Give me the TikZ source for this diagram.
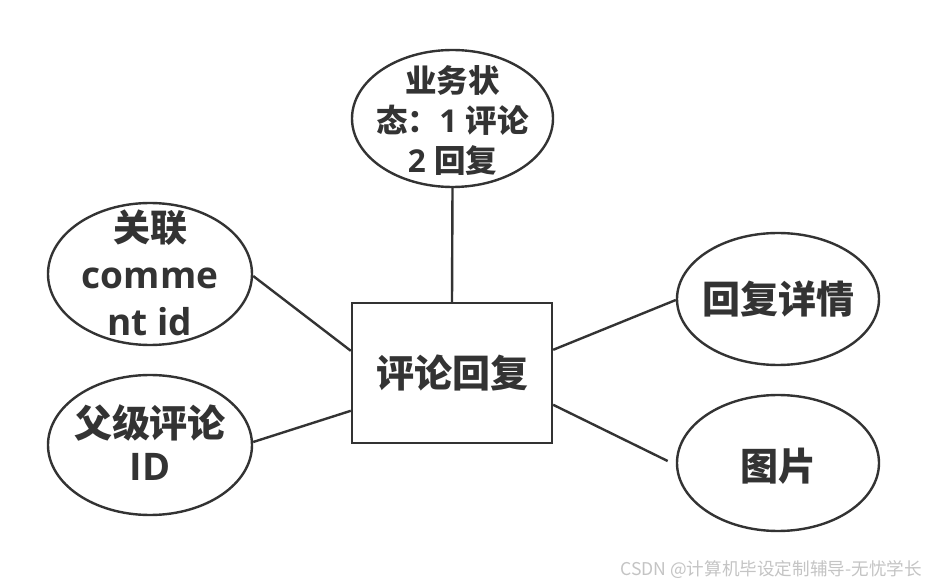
\documentclass[tikz,border=0pt]{standalone}
\usepackage{fontspec}
\setmainfont{Open Sans}
\newfontfamily\cjk{Noto Sans CJK SC}
\usetikzlibrary{shapes.geometric}
\definecolor{ink}{HTML}{333333}
\definecolor{wm}{HTML}{C4C4C4}
\begin{document}
\begin{tikzpicture}[x=1pt,y=-1pt,
  attr/.style={draw=ink,line width=2.4pt,ellipse,inner sep=0pt,fill=white},
  ent/.style={draw=ink,line width=2.4pt,rectangle,inner sep=0pt,fill=white},
  lbl/.style={text=ink,align=center,inner sep=0pt,font=\bfseries},
  link/.style={draw=ink,line width=2.4pt}]
\useasboundingbox (0,0) rectangle (927,585);
\fill[white] (0,0) rectangle (927,585);

% nodes
\node[ent,minimum width=200pt,minimum height=140pt] (r) at (452,373) {};
\node[lbl,font=\fontsize{38}{44}\selectfont\cjk\bfseries] (rt) at (r) {评论回复};

\node[attr,minimum width=201pt,minimum height=137pt] (top) at (452.5,118.5) {};
\node[lbl,font=\fontsize{31.5}{40}\selectfont\bfseries] (topt) at ([yshift=-2]top) {{\cjk 业务状}\\{\cjk 态：}1 {\cjk 评论}\\2 {\cjk 回复}};

\node[attr,minimum width=204pt,minimum height=142pt] (lt) at (150,274) {};
\node[lbl,font=\fontsize{37}{47}\selectfont\bfseries] (ltt) at ([yshift=1]lt) {{\cjk 关联}\\comme\\nt id};

\node[attr,minimum width=204pt,minimum height=140pt] (lb) at (150,445) {};
\node[lbl,font=\fontsize{38}{43}\selectfont\bfseries] (lbt) at ([yshift=2]lb) {{\cjk 父级评论}\\ID};

\node[attr,minimum width=202pt,minimum height=132pt] (rtop) at (778,299) {};
\node[lbl,font=\fontsize{38}{44}\selectfont\cjk\bfseries] (rtopt) at (rtop) {回复详情};

\node[attr,minimum width=202pt,minimum height=136pt] (rbot) at (778,463) {};
\node[lbl,font=\fontsize{38}{44}\selectfont\cjk\bfseries] (rbott) at ([yshift=-3]rbot) {图片};

% connectors
\draw[link] (top.south) -- (r.north);
\draw[link] ([yshift=-2pt]lt.east) -- ([yshift=-49pt]r.north west);
\draw[link] ([yshift=3pt]lb.east) -- ([yshift=-109pt]r.north west);
\draw[link] ([yshift=-48pt]r.north east) -- ([yshift=-1pt]rtop.west);
\draw[link,shorten >=9pt] ([yshift=-103pt]r.north east) -- ([yshift=-2pt]rbot.west);

% watermark
\node[anchor=east,text=wm,inner sep=0pt,font=\fontsize{17.6}{20}\selectfont\cjk] (wmk) at (922,570) {CSDN @计算机毕设定制辅导-无忧学长};
\end{tikzpicture}
\end{document}
